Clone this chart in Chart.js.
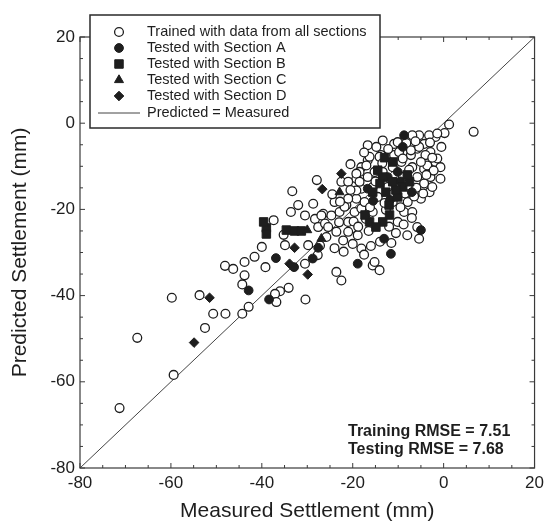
<!DOCTYPE html>
<html><head><meta charset="utf-8">
<script src="https://cdn.jsdelivr.net/npm/chart.js@4/dist/chart.umd.min.js"></script>
<style>html,body{margin:0;padding:0;background:#fff}#wrap{width:549px;height:526px}</style>
</head><body><div id="wrap"><canvas id="c" width="549" height="526"></canvas></div>
<script>
// ---- data (mm) ----
const trained = [
[-71.3,-66.1],[-67.4,-49.8],[-59.4,-58.4],[-59.8,-40.5],[-53.7,-39.9],[-50.7,-44.2],[-48.0,-44.2],[-52.5,-47.5],[-48.1,-33.1],[-46.3,-33.8],
[-43.8,-32.2],[-41.6,-31.0],[-39.2,-33.4],[-43.8,-35.3],[-44.3,-37.4],[-42.9,-42.6],[-44.3,-44.2],[-34.1,-38.2],[-36.0,-39.0],[-37.1,-39.6],
[-36.8,-41.5],[-30.4,-40.9],[-30.5,-32.6],[-27.7,-30.6],[-27.9,-13.2],[-33.3,-15.8],[-32.0,-19.0],[-28.7,-18.7],[-33.6,-20.6],[-30.5,-21.4],
[-28.3,-22.2],[-26.5,-21.0],[-27.6,-24.1],[-26.1,-23.3],[-37.4,-22.5],[-35.2,-25.9],[-34.9,-28.3],[-40.0,-28.7],[-27.2,-28.4],
[-22.5,-13.6],[-26.9,-21.4],[-24.7,-21.4],[-22.9,-20.6],[-21.4,-19.0],[-19.2,-17.5],[-18.1,-15.2],[-19.2,-12.9],[-18.1,-10.2],[-25.4,-24.1],
[-25.8,-26.4],[-20.3,-24.5],[-18.9,-26.0],[-29.8,-28.3],[-24.0,-18.3],[-21.0,-17.5],[-21.8,-19.4],[-19.6,-20.6],[-18.1,-19.8],[-17.1,-22.2],
[-21.0,-22.9],[-23.6,-25.2],[-21.0,-25.2],[-22.1,-27.2],[-20.0,-28.0],[-18.1,-29.1],[-15.6,-33.0],[-14.1,-34.1],[-15.2,-32.2],[-23.6,-34.5],
[-22.5,-36.5],
[6.6,-2.0],[1.2,-0.3],[0.2,-2.3],[-1.8,-3.2],[-3.2,-2.8],[-5.4,-2.8],[-6.9,-2.8],[-4.3,-4.8],[-5.8,-5.9],[-10.9,-4.8],
[-16.7,-5.1],[-13.8,-7.4],[-10.9,-7.4],[-7.2,-7.4],[-2.9,-6.7],[-1.8,-9.0],[-0.7,-10.2],[-0.7,-12.9],[-4.3,-10.6],[-16.7,-8.6],
[-18.5,-11.3],[-15.2,-11.3],[-19.2,-15.6],[-17.4,-18.3],[-5.8,-24.1],[-5.4,-26.8],[-8.7,-20.6],[-10.1,-16.7],[-5.0,-17.5],[-14.1,-7.8],
[-9.8,-6.7],[-7.2,-6.3],[-5.4,-5.5],[-4.0,-7.4],[-1.4,-8.2],[-3.6,-9.8],[-2.9,-12.5],[-4.3,-14.0],[-6.9,-20.6],[-1.4,-2.4],
[-10.1,-4.4],[-16.3,-7.8],[-19.2,-11.7],[-18.5,-13.6],[-21.0,-13.6],[-13.4,-4.0],
[-13.4,-11.3],[-11.2,-10.2],[-9.0,-12.5],[-7.9,-14.8],[-12.3,-14.8],[-14.5,-17.1],[-11.2,-18.3],[-7.9,-18.3],[-6.9,-10.2],[-5.8,-12.5],
[-15.6,-14.8],[-16.7,-12.5],[-12.7,-20.1],[-10.1,-22.9],[-15.6,-20.6],[-3.1,-16.0],[-2.5,-14.8],
[-20.5,-9.5],[-17.5,-6.8],[-14.8,-5.5],[-12.2,-6.0],[-8.2,-4.6],[-6.2,-4.2],[-3.0,-4.5],[-0.5,-5.5],[-2.2,-11.0],[-3.8,-12.0],
[-6.0,-15.0],[-4.5,-16.3],[-6.5,-17.0],[-8.5,-16.3],[-9.5,-19.5],[-7.0,-22.0],[-8.8,-23.5],[-12.0,-24.0],[-10.5,-25.5],[-8.0,-26.0],
[-16.5,-25.0],[-14.0,-27.5],[-16.0,-28.5],[-19.8,-22.8],[-23.0,-23.0],[-24.5,-16.5],[-22.8,-18.2],[-20.5,-15.5],[-17.0,-9.8],[-13.5,-9.3],
[-9.3,-9.0],[-7.6,-10.8],[-5.0,-9.0],[-2.5,-8.0],[-9.0,-8.2],[-15.0,-13.5],[-13.0,-18.5],[-16.2,-19.5],[-18.8,-24.0],[-22.0,-29.8],
[-24.0,-29.0],[-17.5,-30.5],[-11.5,-27.8]
];
const sectionA = [[-8.7,-2.8],[-9.0,-5.5],[-36.9,-31.3],[-32.9,-33.4],[-28.8,-31.4],[-42.9,-38.8],[-38.4,-40.9],[-16.7,-15.2],
[-13.1,-26.8],[-11.6,-30.3],[-18.9,-32.6],[-5.0,-24.8],[-12.3,-12.5],[-10.1,-11.3],[-27.6,-28.9],
[-9.5,-13.5],[-11.8,-17.8],[-15.5,-18.0],[-7.0,-16.0]];
const sectionB = [[-39.0,-24.3],[-39.6,-22.9],[-39.0,-25.7],[-34.6,-24.8],[-32.8,-25.0],[-31.3,-25.0],[-16.3,-22.9],[-13.4,-22.9],
[-14.9,-24.1],[-17.3,-21.3],[-11.9,-21.3],[-13.4,-12.5],[-11.2,-13.6],[-9.0,-14.8],[-12.7,-16.0],[-10.1,-17.1],[-7.5,-13.6],
[-14.5,-10.9],[-11.2,-9.0],[-15.6,-16.0],[-12.0,-19.0],[-14.0,-14.0],[-10.5,-15.5],[-8.0,-12.0],[-13.0,-8.0]];
const sectionC = [[-22.9,-16.0],[-26.9,-26.8],[-30.0,-24.8]];
const sectionD = [[-51.5,-40.5],[-54.9,-50.9],[-26.7,-15.3],[-32.8,-28.9],[-33.9,-32.6],[-29.9,-35.1],[-22.5,-11.7]];
const equalityLine = [[-80,-80],[20,20]];
const axisMin = -80, axisMax = 20, majorStep = 20, minorStep = 5;
const legendLabels = ['Trained with data from all sections','Tested with Section A','Tested with Section B','Tested with Section C','Tested with Section D','Predicted = Measured'];
const rmseLines = ['Training RMSE = 7.51','Testing RMSE = 7.68'];
const xTitle = 'Measured Settlement (mm)';
const yTitle = 'Predicted Settlement (mm)';

const toXY = a => a.map(p => ({x:p[0], y:p[1]}));
const INK = '#1e1e1e';
const FONT = '"Liberation Sans", Arial, Helvetica, sans-serif';

const styles = [
  {pointStyle:'circle', radius:4.4, bg:'#fff', bw:1.3},
  {pointStyle:'circle', radius:4.4, bg:INK, bw:1},
  {pointStyle:'rect', radius:6, bg:INK, bw:1},
  {pointStyle:'triangle', radius:5.2, bg:INK, bw:1},
  {pointStyle:'rectRot', radius:4.8, bg:INK, bw:1}
];
const series = [trained, sectionA, sectionB, sectionC, sectionD];

const datasets = series.map((d,i) => ({
  type:'scatter', label: legendLabels[i], data: toXY(d),
  pointStyle: styles[i].pointStyle, pointRadius: styles[i].radius, pointHoverRadius: styles[i].radius,
  backgroundColor: styles[i].bg, borderColor: INK, borderWidth: styles[i].bw, order: 6 - i
}));
datasets.push({type:'line', label: legendLabels[5], data: toXY(equalityLine), borderColor:'#444', borderWidth:1,
  pointRadius:0, fill:false, order:10});

const decorPlugin = {
  id:'decor',
  afterDraw(chart){
    const {ctx, chartArea:a, scales:{x,y}} = chart;
    ctx.save();
    ctx.strokeStyle = '#3a3a3a'; ctx.lineWidth = 1.2;
    ctx.strokeRect(a.left, a.top, a.right - a.left, a.bottom - a.top);
    ctx.lineWidth = 1;
    for (let v = axisMin; v <= axisMax; v += minorStep) {
      const len = (v % majorStep === 0) ? 5 : 3;
      const px = x.getPixelForValue(v), py = y.getPixelForValue(v);
      ctx.beginPath();
      ctx.moveTo(px, a.bottom); ctx.lineTo(px, a.bottom - len);
      ctx.moveTo(px, a.top); ctx.lineTo(px, a.top + len);
      ctx.moveTo(a.left, py); ctx.lineTo(a.left + len, py);
      ctx.moveTo(a.right, py); ctx.lineTo(a.right - len, py);
      ctx.stroke();
    }
    ctx.fillStyle = INK;
    ctx.font = 'bold 16px ' + FONT;
    ctx.textAlign = 'left'; ctx.textBaseline = 'middle';
    ctx.fillText(rmseLines[0], 348, 432);
    ctx.fillText(rmseLines[1], 348, 450);
    const L = 90, T = 15, R = 380, B = 128;
    ctx.fillStyle = '#fff';
    ctx.fillRect(L, T, R - L, B - T);
    ctx.strokeStyle = '#2a2a2a'; ctx.lineWidth = 1.5;
    ctx.strokeRect(L, T, R - L, B - T);
    const rows = [32, 48, 64, 80, 96, 113];
    const sx = 119, tx = 147;
    for (let i = 0; i < 5; i++) {
      ctx.fillStyle = styles[i].bg; ctx.strokeStyle = INK; ctx.lineWidth = styles[i].bw;
      Chart.helpers.drawPoint(ctx, {pointStyle: styles[i].pointStyle, radius: styles[i].radius, borderWidth: styles[i].bw, rotation:0}, sx, rows[i]);
    }
    ctx.strokeStyle = '#444'; ctx.lineWidth = 1;
    ctx.beginPath(); ctx.moveTo(98, rows[5]); ctx.lineTo(140, rows[5]); ctx.stroke();
    ctx.fillStyle = INK;
    ctx.font = '14.5px ' + FONT;
    ctx.textAlign = 'left'; ctx.textBaseline = 'middle';
    legendLabels.forEach((t, i) => ctx.fillText(t, tx, rows[i]));
    ctx.restore();
  }
};

const tickFont = {family: FONT, size: 17};
const titleFont = {family: FONT, size: 21};

new Chart(document.getElementById('c'), {
  data: {datasets},
  options: {
    responsive:false, animation:false, devicePixelRatio:1,
    layout: {padding: {left:0, top:37, right:8, bottom:0}},
    plugins: {legend:{display:false}, tooltip:{enabled:false}},
    scales: {
      x: {type:'linear', min:axisMin, max:axisMax,
          grid:{display:false, drawTicks:false}, border:{display:false},
          ticks:{stepSize:majorStep, font:tickFont, color:INK, padding:5, maxRotation:0},
          title:{display:true, text:xTitle, font:titleFont, color:INK, padding:{top:0, bottom:2}},
          afterFit: s => { s.height = 58; }},
      y: {type:'linear', min:axisMin, max:axisMax,
          grid:{display:false, drawTicks:false}, border:{display:false},
          ticks:{stepSize:majorStep, font:tickFont, color:INK, padding:5},
          title:{display:true, text:yTitle, font:titleFont, color:INK, padding:{top:8, bottom:0}},
          afterFit: s => { s.width = 80; }}
    }
  },
  plugins:[decorPlugin]
});
</script></body></html>
